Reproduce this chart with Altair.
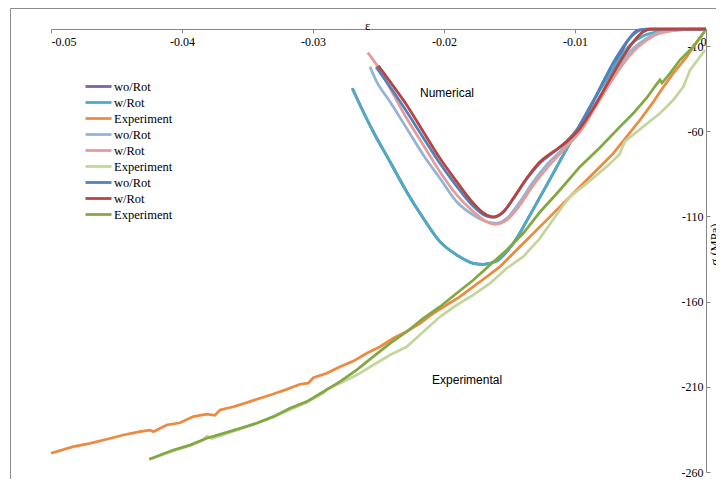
import altair as alt
import pandas as pd

# Series keys (prefix keeps them unique; legend shows text after the prefix)
keys = ["1 wo/Rot", "2 w/Rot", "3 Experiment",
        "4 wo/Rot", "5 w/Rot", "6 Experiment",
        "7 wo/Rot", "8 w/Rot", "9 Experiment"]
colors = ["#7B5EA5", "#4BACC6", "#EE8A3F",
          "#95B3D7", "#E39C9A", "#C3D69B",
          "#4F81BD", "#B8433F", "#82A843"]

# ---- Numerical: group 1 ----
a_x = [-0.0270, -0.02641, -0.02540, -0.02412, -0.02285, -0.02158, -0.02031, -0.01903,
       -0.01776, -0.01700, -0.01598, -0.01521, -0.01445, -0.01344, -0.01216, -0.01089,
       -0.00962, -0.00834, -0.00708]
a_y = [-34.8, -44.6, -60.3, -77.9, -95.5, -111.1, -124.8, -132.6,
       -137.5, -138.1, -136.2, -130.7, -122.8, -109.2, -91.6, -73.9,
       -56.3, -38.7, -23.1]
wo1_x = a_x + [-0.00595, -0.00519, -0.00427, 0.0]
wo1_y = a_y + [-6.5, -0.6, 0.0, 0.0]
w1_x = a_x + [-0.00580, -0.00481, -0.00382, -0.00252, -0.00099, 0.0]
w1_y = a_y + [-9.4, -4.1, -1.8, -0.6, 0.0, 0.0]

# ---- Numerical: group 2 ----
wo2_x = [-0.02565, -0.02514, -0.02412, -0.02285, -0.02158, -0.02031, -0.01903, -0.01776,
         -0.01674, -0.01598, -0.01521, -0.01420, -0.01318, -0.01216, -0.01089, -0.00962,
         -0.00834, -0.00708, -0.00580, -0.00453, -0.00351, -0.00198, 0.0]
wo2_y = [-22.1, -30.9, -42.7, -58.3, -73.9, -87.6, -101.4, -109.2,
         -113.1, -114.0, -111.1, -101.4, -89.6, -79.8, -70.0, -58.3,
         -42.7, -27.0, -13.3, -5.5, -1.6, 0.0, 0.0]
w2_x = [-0.02582, -0.02514, -0.02412, -0.02285, -0.02158, -0.02031, -0.01903, -0.01776,
        -0.01674, -0.01611, -0.01521, -0.01420, -0.01318, -0.01216, -0.01089, -0.00962,
        -0.00834, -0.00708, -0.00580, -0.00453, -0.00351, -0.00198, 0.0]
w2_y = [-13.9, -21.1, -34.8, -52.4, -68.1, -83.8, -97.4, -107.2,
        -113.1, -114.6, -112.1, -103.3, -91.6, -81.8, -71.0, -60.3,
        -44.6, -28.9, -15.3, -6.5, -2.5, -0.6, 0.0]

# ---- Numerical: group 3 ----
wo3_x = [-0.02519, -0.02427, -0.02305, -0.02176, -0.02046, -0.01916, -0.01786, -0.01679,
         -0.01626, -0.01550, -0.01473, -0.01369, -0.01267, -0.01166, -0.01069, -0.00977,
         -0.00878, -0.00786, -0.00687, -0.00588, -0.00511, -0.00458, 0.0]
wo3_y = [-22.3, -32.3, -46.1, -61.6, -77.2, -91.0, -103.3, -109.8,
         -110.6, -107.7, -99.8, -88.0, -78.6, -72.5, -66.3, -58.1,
         -45.2, -31.1, -17.0, -5.9, -0.9, 0.0, 0.0]
w3_x = [-0.02502, -0.02412, -0.02285, -0.02158, -0.02031, -0.01903, -0.01776, -0.01674,
        -0.01624, -0.01547, -0.01471, -0.01369, -0.01267, -0.01166, -0.01063, -0.00962,
        -0.00860, -0.00758, -0.00656, -0.00555, -0.00479, -0.00427, 0.0]
w3_y = [-21.5, -30.9, -44.6, -60.3, -75.9, -89.6, -102.3, -109.2,
        -110.2, -107.2, -99.4, -87.6, -77.9, -72.0, -66.1, -58.3,
        -46.5, -32.9, -19.2, -7.5, -1.6, 0.0, 0.0]

# ---- Experiments ----
e1_x = [-0.0500, -0.04830, -0.04702, -0.04575, -0.04448, -0.04321, -0.04244, -0.04219,
        -0.04117, -0.04015, -0.03914, -0.03811, -0.03748, -0.03710, -0.03608, -0.03506,
        -0.03405, -0.03303, -0.03201, -0.03099, -0.03036, -0.02998, -0.02895, -0.02794,
        -0.02692, -0.02590, -0.02489, -0.02387, -0.02285, -0.02183, -0.02082, -0.01980,
        -0.01878, -0.01776, -0.01674, -0.01573, -0.01471, -0.01369, -0.01267, -0.01166,
        -0.01063, -0.00987, -0.00911, -0.00809, -0.00708, -0.00605, -0.00504, -0.00402,
        -0.00351, -0.00250, -0.00147, -0.00097, -0.00021]
e1_y = [-249.0, -245.1, -243.2, -240.8, -238.3, -236.3, -235.4, -236.3,
        -232.4, -231.1, -227.5, -226.1, -226.7, -223.6, -221.7, -219.3,
        -216.7, -214.2, -211.5, -208.5, -207.9, -204.7, -202.1, -198.2,
        -194.9, -190.3, -186.5, -181.5, -177.6, -172.7, -166.9, -162.0,
        -157.1, -151.2, -145.4, -139.5, -131.6, -123.8, -116.0, -108.2,
        -100.4, -94.5, -88.6, -80.8, -73.0, -63.2, -53.4, -42.8,
        -36.8, -26.0, -16.3, -10.4, -2.5]

e2_x = [-0.04250, -0.04066, -0.03939, -0.03840, -0.03809, -0.03771, -0.03557, -0.03303,
        -0.03048, -0.02921, -0.02893, -0.02794, -0.02666, -0.02540, -0.02412, -0.02285,
        -0.02158, -0.02031, -0.01903, -0.01776, -0.01649, -0.01521, -0.01395, -0.01267,
        -0.01115, -0.01038, -0.00911, -0.00758, -0.00660, -0.00620, -0.00479, -0.00351,
        -0.00250, -0.00173, -0.00122, -0.00046, -0.00008]
e2_y = [-252.5, -247.7, -244.4, -241.2, -238.9, -240.3, -234.8, -227.7,
        -219.2, -213.6, -211.3, -207.9, -203.1, -197.2, -191.3, -186.5,
        -177.7, -168.9, -162.0, -156.1, -149.3, -140.4, -133.6, -122.7,
        -106.2, -98.4, -90.6, -80.8, -73.5, -66.0, -57.3, -49.5,
        -41.7, -33.9, -24.1, -16.3, -12.3]

e3_x = [-0.04250, -0.04066, -0.03939, -0.03811, -0.03685, -0.03557, -0.03430, -0.03303,
        -0.03176, -0.03048, -0.02921, -0.02794, -0.02666, -0.02540, -0.02412, -0.02285,
        -0.02158, -0.02031, -0.01903, -0.01776, -0.01649, -0.01521, -0.01395, -0.01267,
        -0.01115, -0.00962, -0.00809, -0.00656, -0.00555, -0.00453, -0.00382, -0.00351,
        -0.00336, -0.00275, -0.00198, -0.00097, -0.00008]
e3_y = [-252.5, -247.1, -244.2, -240.2, -237.3, -234.4, -231.4, -227.5,
        -222.6, -218.7, -212.9, -207.0, -200.1, -192.3, -184.5, -177.7,
        -169.8, -163.0, -155.1, -147.3, -138.5, -129.7, -119.9, -107.4,
        -94.5, -80.8, -69.5, -57.3, -49.5, -40.5, -32.9, -29.9,
        -31.7, -26.0, -18.2, -10.4, -1.2]

# Annotation labels
note_text = ["Numerical", "Experimental"]
note_x = [-0.01977, -0.01824]
note_y = [-37.6, -206.0]

num_series = [(keys[0], wo1_x, wo1_y), (keys[1], w1_x, w1_y),
              (keys[3], wo2_x, wo2_y), (keys[4], w2_x, w2_y),
              (keys[6], wo3_x, wo3_y), (keys[7], w3_x, w3_y)]
exp_series = [(keys[2], e1_x, e1_y), (keys[5], e2_x, e2_y), (keys[8], e3_x, e3_y)]


def frame(series):
    rows = []
    for k, xs, ys in series:
        for i, (xv, yv) in enumerate(zip(xs, ys)):
            rows.append({"series": k, "strain": xv, "stress": yv, "i": i})
    return pd.DataFrame(rows)


df_num = frame(num_series)
df_exp = frame(exp_series)
df_note = pd.DataFrame({"strain": note_x, "stress": note_y, "t": note_text})

W, H = 655, 443

x_enc = alt.X("strain:Q",
              scale=alt.Scale(domain=[-0.05, 0], nice=False, zero=False),
              axis=alt.Axis(orient="bottom", offset=-H,
                            values=[-0.05, -0.04, -0.03, -0.02, -0.01, 0],
                            labelExpr="datum.value == 0 ? '0' : '-' + format(abs(datum.value), '.2f')",
                            tickSize=4, labelPadding=3, grid=False,
                            title="ε", titleX=316, titleY=0,
                            titleBaseline="alphabetic", titleAlign="center"))
y_enc = alt.Y("stress:Q",
              scale=alt.Scale(domain=[-260, 0], nice=False, zero=False),
              axis=alt.Axis(orient="right",
                            values=[-260, -210, -160, -110, -60, -10],
                            labelExpr="'-' + format(abs(datum.value), 'd')",
                            tickSize=4, labelAlign="right", labelPadding=-7, grid=False,
                            title="σ (MPa)", titleX=8, titleY=215, titleAngle=270,
                            titleAlign="center", titleBaseline="middle"))
color_enc = alt.Color("series:N",
                      scale=alt.Scale(domain=keys, range=colors),
                      legend=alt.Legend(orient="none", legendX=41, legendY=51, title=None,
                                        symbolType="M-2.6,0H2.6", symbolSize=100,
                                        symbolStrokeWidth=2.75, labelFont="Liberation Serif",
                                        labelFontSize=12.5, labelColor="#000000",
                                        labelExpr="substring(datum.label, 2)",
                                        rowPadding=3, labelOffset=9, padding=0))

border = alt.Chart(pd.DataFrame({"a": [0]})).mark_rect(
    fillOpacity=0, stroke="#8C8C8C", strokeWidth=1).encode(
    x=alt.value(-40.5), x2=alt.value(720), y=alt.value(-20.5), y2=alt.value(490))

num = alt.Chart(df_num).mark_line(strokeWidth=2.75, interpolate="monotone").encode(
    x=x_enc, y=y_enc, color=color_enc, detail="series:N", order="i:Q")
exp = alt.Chart(df_exp).mark_line(strokeWidth=2.75).encode(
    x="strain:Q", y="stress:Q", color="series:N", order="i:Q")
notes = alt.Chart(df_note).mark_text(font="Liberation Sans", fontSize=12,
                                     color="#000000").encode(
    x="strain:Q", y="stress:Q", text="t:N")

chart = alt.layer(border, num, exp, notes).properties(
    width=W, height=H,
    autosize=alt.AutoSizeParams(type="none"),
    padding={"left": 43, "top": 21, "right": 10, "bottom": 7},
    background="white",
).configure_view(strokeWidth=0).configure_axis(
    domainColor="#868686", tickColor="#868686",
    labelFont="Liberation Serif", labelFontSize=12, labelColor="#000000",
    titleFont="Liberation Serif", titleFontSize=12.5, titleFontWeight="normal",
    titleColor="#000000", domainWidth=1)

chart.save("out.html", embed_options={"renderer": "svg", "actions": False})
